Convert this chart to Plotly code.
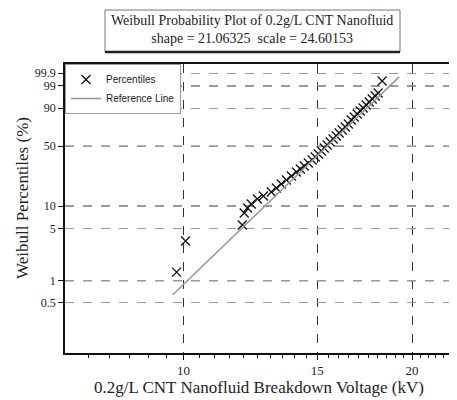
import numpy as np
import plotly.graph_objects as go

# ---- data ----
voltage_kv = [9.79, 10.06, 11.95, 12.02, 12.14, 12.28, 12.51, 12.74, 13.05, 13.25,
              13.45, 13.66, 13.87, 14.08, 14.25, 14.42, 14.60, 14.77, 14.91, 15.05,
              15.19, 15.32, 15.46, 15.60, 15.74, 15.89, 16.03, 16.18, 16.33, 16.48,
              16.63, 16.78, 16.93, 17.09, 17.24, 17.40, 17.56, 17.72, 17.88, 18.04, 18.26]
percentile = [1.31, 3.44, 5.64, 8.10, 9.43, 10.61, 12.30, 13.44, 15.10, 16.94,
              18.97, 21.23, 23.71, 26.42, 28.63, 30.97, 33.46, 36.08, 38.86, 41.77,
              44.79, 47.95, 51.20, 54.55, 57.96, 61.42, 64.89, 68.35, 71.75, 75.07,
              79.31, 82.30, 85.08, 87.64, 89.95, 92.01, 93.77, 95.26, 96.50, 97.49, 99.54]
ref_kv = [9.67, 19.23]
ref_pct = [0.64, 99.78]
ytick_pct = [0.5, 1, 5, 10, 50, 90, 99, 99.9]
ytick_text = ["0.5", "1", "5", "10", "50", "90", "99", "99.9"]
ygrid_dark_pct = [1, 10, 50, 99]
xtick_vals = [10, 15, 20]


def weib(p):
    p = np.asarray(p, dtype=float) / 100.0
    return np.log(-np.log(1.0 - p))


serif = "Liberation Serif, Times New Roman, serif"
sans = "Liberation Sans, Arial, sans-serif"

# page body keeps its default 8px margin, so the figure is 8px smaller
W, H = 449, 392
OFF = 8

fig = go.Figure()
fig.add_trace(go.Scatter(
    x=voltage_kv, y=weib(percentile), mode="markers", name="Percentiles",
    marker=dict(symbol="x-thin", size=9, line=dict(color="#111", width=1.3), color="#111"),
))
fig.add_trace(go.Scatter(
    x=ref_kv, y=weib(ref_pct), mode="lines", name="Reference Line",
    line=dict(color="#9a9a9a", width=1.6),
))

minor_vals = [v for v in np.arange(7.5, 23.0, 0.5) if v not in (10, 15, 20)]

# plot area in reference pixels: x 65..453, y 64..353
L, R, T, B = 65, 453, 64, 353
fig.update_layout(
    width=W, height=H,
    margin=dict(l=L - OFF, r=(W + OFF) - R, t=T - OFF, b=(H + OFF) - B, autoexpand=False),
    paper_bgcolor="white", plot_bgcolor="white",
    showlegend=True,
    legend=dict(x=0.0, y=1.0, xanchor="left", yanchor="top",
                bgcolor="white", bordercolor="#999", borderwidth=1,
                font=dict(family=sans, size=10, color="#222"),
                tracegroupgap=0, itemwidth=30),
    xaxis=dict(
        type="log", range=[np.log10(6.98), np.log10(22.64)],
        tickvals=xtick_vals, ticktext=[str(v) for v in xtick_vals],
        ticks="outside", ticklen=5, tickcolor="#111", automargin=False,
        showline=True, linecolor="#111", linewidth=1.5, mirror=True,
        showgrid=True, gridcolor="#333", griddash="dash", gridwidth=1,
        zeroline=False,
        minor=dict(tickvals=minor_vals, ticks="outside", ticklen=3, tickcolor="#111", showgrid=False),
        tickfont=dict(family=serif, size=13, color="#222"),
    ),
    yaxis=dict(
        range=[-6.873, 2.218],
        tickvals=list(weib(ytick_pct)), ticktext=ytick_text,
        ticks="outside", ticklen=5, tickcolor="#111", automargin=False,
        showline=True, linecolor="#111", linewidth=1.5, mirror=True,
        showgrid=True, gridcolor="#9a9a9a", griddash="dash", gridwidth=1,
        zeroline=False,
        tickfont=dict(family=serif, size=12, color="#222"),
    ),
)

# darker dashed gridlines at 1, 10, 50, 99 %
for yv in weib(ygrid_dark_pct):
    fig.add_shape(type="line", xref="paper", yref="y", x0=0, x1=1, y0=yv, y1=yv,
                  line=dict(color="#222", width=1, dash="dash"), layer="below")

PW, PH = R - L, B - T


def px(x):
    return (x - L) / PW


def py(y):
    return (B - y) / PH


# axis titles as annotations (pixel-aligned with the reference)
fig.add_annotation(xref="paper", yref="paper", x=px(259), y=py(387),
                   text="0.2g/L CNT Nanofluid Breakdown Voltage (kV)", showarrow=False,
                   font=dict(family=serif, size=17, color="#222"),
                   xanchor="center", yanchor="middle")
fig.add_annotation(xref="paper", yref="paper", x=px(22), y=py(198),
                   text="Weibull Percentiles (%)", showarrow=False, textangle=-90,
                   font=dict(family=serif, size=17, color="#222"),
                   xanchor="center", yanchor="middle")

# title box
fig.add_shape(type="rect", xref="paper", yref="paper",
              x0=px(105), x1=px(400), y0=py(52), y1=py(10),
              line=dict(color="#777", width=1), fillcolor="white", layer="above")
fig.add_shape(type="line", xref="paper", yref="paper",
              x0=px(105), x1=px(400), y0=py(52), y1=py(52),
              line=dict(color="#222", width=2.5))
fig.add_annotation(xref="paper", yref="paper", x=px(252), y=py(30),
                   text="Weibull Probability Plot of 0.2g/L CNT Nanofluid<br>shape = 21.06325  scale = 24.60153",
                   showarrow=False, font=dict(family=serif, size=14, color="#222"),
                   align="center", xanchor="center", yanchor="middle")

fig.write_html("out.html")
